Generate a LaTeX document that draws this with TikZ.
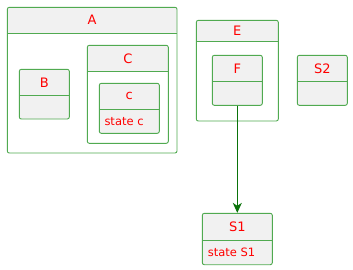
\documentclass[tikz,border=0pt]{standalone}
\usepackage{fontspec}
\setmainfont{DejaVu Sans}
\usetikzlibrary{calc,fit,arrows.meta}
\definecolor{stateline}{RGB}{80,170,80}
\definecolor{statefill}{RGB}{241,241,241}
\definecolor{arrowgreen}{RGB}{10,115,10}
\tikzset{
  outline/.style={draw=stateline, line width=0.9pt, rounded corners=2pt},
  divider/.style={draw=stateline, line width=0.9pt},
  title/.style={text=red, font=\fontsize{13}{15}\selectfont, inner sep=0pt},
  desc/.style={text=red, font=\fontsize{11.5}{13}\selectfont, inner sep=0pt, anchor=west},
  link/.style={draw=arrowgreen, line width=1pt, -{Stealth[length=10pt,width=9pt,inset=3pt]}}
}
% name, x1, y1, x2, y2, divider, title, body fill
\newcommand\statebox[8]{%
  \fill[#8, rounded corners=2pt] (#2,#3) rectangle (#4,#5);
  \fill[statefill, rounded corners=2pt] (#2,#3) rectangle (#4,#6);
  \path[divider] (#2,#6) -- (#4,#6);
  \node[outline, fit={(#2,#3) (#4,#5)}, inner sep=0pt] (#1) {};
  \node[title] (#1-t) at ($(#2,#3)!0.5!(#4,#6)$) {#7};
}
\begin{document}
\begin{tikzpicture}[x=1pt, y=-1pt]
  \useasboundingbox (0,0) rectangle (353,269);
  \statebox{A}{7.3}{7.3}{177}{153}{33}{A}{white}
  \statebox{B}{19.3}{69.3}{69.3}{119}{95.3}{B}{statefill}
  \statebox{C}{87.3}{45.3}{168.3}{143.3}{71.3}{C}{white}
  \statebox{c}{99.3}{83.3}{159.3}{133.3}{109.3}{c}{statefill}
  \node[desc] (c-d) at (104.3,121.5) {state c};
  \statebox{E}{196.3}{20.3}{278.3}{121}{41.3}{E}{white}
  \statebox{F}{212.3}{55.3}{262.3}{105.3}{81.3}{F}{statefill}
  \statebox{S2}{297.3}{55.3}{347.3}{105.3}{81.3}{S2}{statefill}
  \statebox{S1}{202.3}{213.3}{272.3}{264.7}{240.3}{S1}{statefill}
  \node[desc] (S1-d) at (207.7,252) {state S1};
  \draw[link] (F.south) -- (F.south |- S1.north);
\end{tikzpicture}
\end{document}
